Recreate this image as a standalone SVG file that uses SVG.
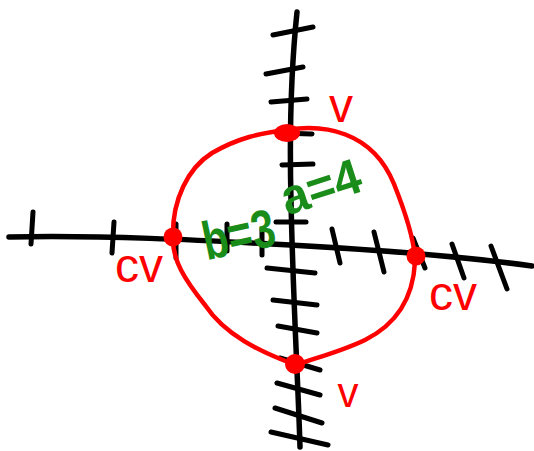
<svg xmlns="http://www.w3.org/2000/svg" width="534" height="451" viewBox="0 0 534 451">
<style>
.ax{fill:none;stroke:#000;stroke-width:5.5;stroke-linecap:round;stroke-linejoin:round}
.tk{fill:none;stroke:#000;stroke-width:5;stroke-linecap:round}
.ell{fill:none;stroke:#ff0000;stroke-width:4.5;stroke-linejoin:round}
.pt{fill:#ff0000}
.rl{fill:#ff0000;font-family:"Liberation Sans",Arial,sans-serif}
.gl{fill:#1a8c1a;font-family:"Liberation Sans",Arial,sans-serif;font-weight:bold}
</style>
<rect width="534" height="451" fill="#fff"/>
<g id="axes">
<path class="ax" d="M9,237 C100,235 200,240 290,245 C380,250 460,256 532,266"/>
<path class="ax" d="M297,12 C292,60 289,120 291,200 C293,300 298,380 300,447"/>
</g>
<g id="x-ticks">
<path class="tk" d="M33,212 L31,244"/>
<path class="tk" d="M114,222 L112,253"/>
<path class="tk" d="M176,224 L176,258"/>
<path class="tk" d="M227,224 L227,251"/>
<path class="tk" d="M262,229 L262,255"/>
<path class="tk" d="M332,229 L340,263"/>
<path class="tk" d="M374,232 L384,272"/>
<path class="tk" d="M413,238 L425,268"/>
<path class="tk" d="M452,244 L464,278"/>
<path class="tk" d="M491,246 L507,289"/>
</g>
<g id="y-ticks">
<path class="tk" d="M273,35 L313,27"/>
<path class="tk" d="M266,74 L303,67"/>
<path class="tk" d="M271,102 L307,99"/>
<path class="tk" d="M280,133 L312,134"/>
<path class="tk" d="M282,165 L313,164"/>
<path class="tk" d="M276,222 L306,222"/>
<path class="tk" d="M267,268 L315,273"/>
<path class="tk" d="M273,300 L317,305"/>
<path class="tk" d="M278,326 L317,333"/>
<path class="tk" d="M280,358 L320,370"/>
<path class="tk" d="M277,383 L320,395"/>
<path class="tk" d="M275,408 L322,423"/>
<path class="tk" d="M271,432 L328,445"/>
</g>
<g id="ellipse">
<path class="ell" d="M287,130 C322,124 372,130 394,184 C406,214 415,245 415,262 C413,300 395,325 365,340 C340,352 315,358 296,365 C260,352 225,335 205,305 C185,280 172,260 173,237 C172,200 188,168 212,153 C238,138 260,133 287,130 Z"/>
</g>
<g id="vertex-top"><ellipse class="pt" cx="287" cy="133" rx="13" ry="9"/><text class="rl" x="341" y="122" font-size="48" text-anchor="middle">v</text></g>
<g id="covertex-left"><circle class="pt" cx="173" cy="237" r="9.5"/><text class="rl" x="139" y="282" font-size="48" text-anchor="middle">cv</text></g>
<g id="covertex-right"><circle class="pt" cx="416" cy="256" r="9.5"/><text class="rl" x="453" y="310" font-size="48" text-anchor="middle">cv</text></g>
<g id="vertex-bottom"><circle class="pt" cx="295" cy="364" r="10"/><text class="rl" x="348" y="407" font-size="42" text-anchor="middle">v</text></g>
<g id="label-b"><text class="gl" x="238" y="253" font-size="54" text-anchor="middle" textLength="73" lengthAdjust="spacingAndGlyphs" transform="rotate(-12 238 232)">b=3</text></g>
<g id="label-a"><text class="gl" x="320" y="204" font-size="50" text-anchor="middle" textLength="82" lengthAdjust="spacingAndGlyphs" transform="rotate(-18 320 185)">a=4</text></g>
</svg>
